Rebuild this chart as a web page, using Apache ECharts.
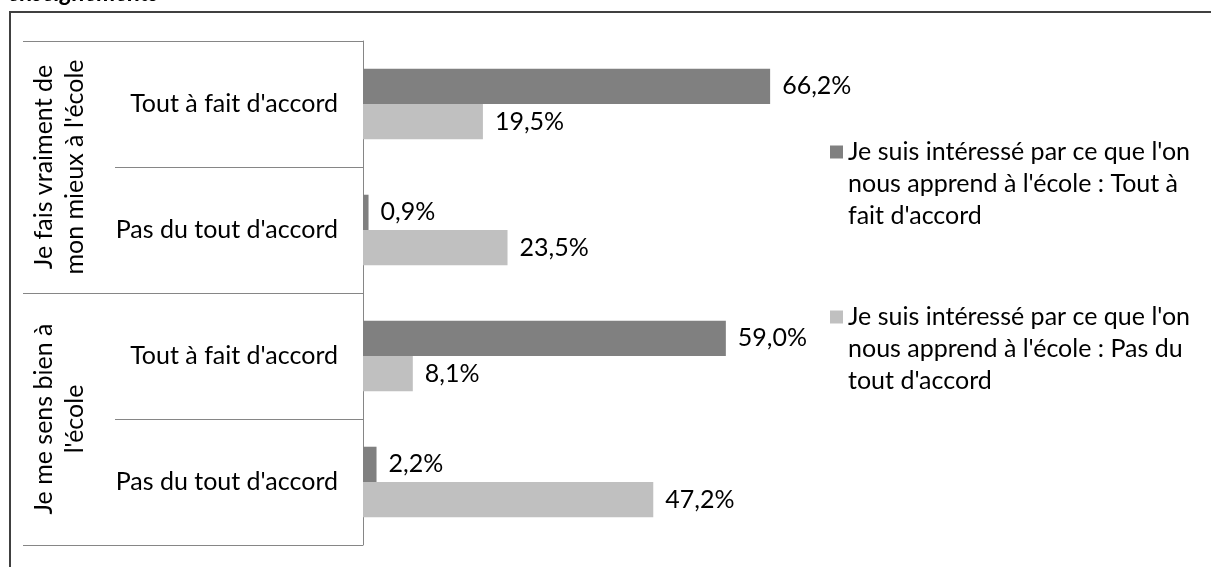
<!DOCTYPE html>
<html><head><meta charset="utf-8">
<script src="https://cdn.jsdelivr.net/npm/echarts@6/dist/echarts.min.js"></script>
<style>html,body{margin:0;padding:0;background:#fff}#c{width:1211px;height:567px}</style>
</head><body><div id="c"></div>
<script>
const groups = ["Je fais vraiment de\nmon mieux à l'école", "Je me sens bien à\nl'école"];
const subcats = ["Tout à fait d'accord", "Pas du tout d'accord", "Tout à fait d'accord", "Pas du tout d'accord"];
const seriesNames = ["Je suis intéressé par ce que l'on nous apprend à l'école : Tout à fait d'accord",
                     "Je suis intéressé par ce que l'on nous apprend à l'école : Pas du tout d'accord"];
const legendText = ["Je suis intéressé par ce que l'on\nnous apprend à l'école : Tout à\nfait d'accord",
                    "Je suis intéressé par ce que l'on\nnous apprend à l'école : Pas du\ntout d'accord"];
const valuesTout = [66.2, 0.9, 59.0, 2.2];
const valuesPas = [19.5, 23.5, 8.1, 47.2];
const titleText = "enseignements";

const FONT = 'Lato';
const FS = 25;
const chart = echarts.init(document.getElementById('c'), null, {renderer: 'canvas'});
const fmt = p => p.value.toFixed(1).replace('.', ',') + '%';
chart.setOption({
  animation: false,
  textStyle: {fontFamily: FONT},
  grid: {left: 363, top: 41, height: 504, width: 615},
  xAxis: {type: 'value', min: 0, max: 100, show: false},
  yAxis: [{
    type: 'category', data: subcats, inverse: true, position: 'left',
    axisLine: {show: true, lineStyle: {color: '#868686', width: 1}},
    axisTick: {show: true, interval: 0, length: 248, lineStyle: {color: '#868686', width: 1}},
    axisLabel: {interval: 0, align: 'right', margin: 25, fontSize: FS, color: '#000', fontFamily: FONT}
  }, {
    type: 'category', data: groups, inverse: true, position: 'left', offset: 0,
    axisLine: {show: false},
    axisTick: {show: true, interval: 0, length: 340, lineStyle: {color: '#868686', width: 1}},
    axisLabel: {interval: 0, rotate: 90, align: 'center', verticalAlign: 'middle', margin: 304, fontSize: FS, lineHeight: 31, color: '#000', fontFamily: FONT, hideOverlap: false}
  }],
  legend: {
    orient: 'vertical', left: 825, top: 67, itemWidth: 13, itemHeight: 13, itemGap: 5,
    icon: 'rect',
    data: seriesNames,
    formatter: name => '\n\n' + legendText[seriesNames.indexOf(name)],
    textStyle: {fontSize: FS, lineHeight: 32, color: '#000', fontFamily: FONT}
  },
  series: [{
    name: seriesNames[0], type: 'bar', data: valuesTout, yAxisIndex: 0,
    barGap: '0%', barCategoryGap: '44%',
    itemStyle: {color: '#808080'},
    label: {show: true, position: 'right', distance: 12, formatter: fmt, fontSize: FS, color: '#000', fontFamily: FONT}
  }, {
    name: seriesNames[1], type: 'bar', data: valuesPas, yAxisIndex: 0,
    barGap: '0%', barCategoryGap: '44%',
    itemStyle: {color: '#c0c0c0'},
    label: {show: true, position: 'right', distance: 12, formatter: fmt, fontSize: FS, color: '#000', fontFamily: FONT}
  }],
  graphic: [{
    type: 'rect', shape: {x: 10, y: 12, width: 1250, height: 600},
    style: {fill: 'none', stroke: '#404040', lineWidth: 2}, silent: true, z: 100
  }, {
    type: 'text', left: 8, top: -19,
    style: {text: titleText, fontSize: 24, fontWeight: 'bold', fontStyle: 'italic', fontFamily: FONT, fill: '#000'}
  }]
});
</script></body></html>
